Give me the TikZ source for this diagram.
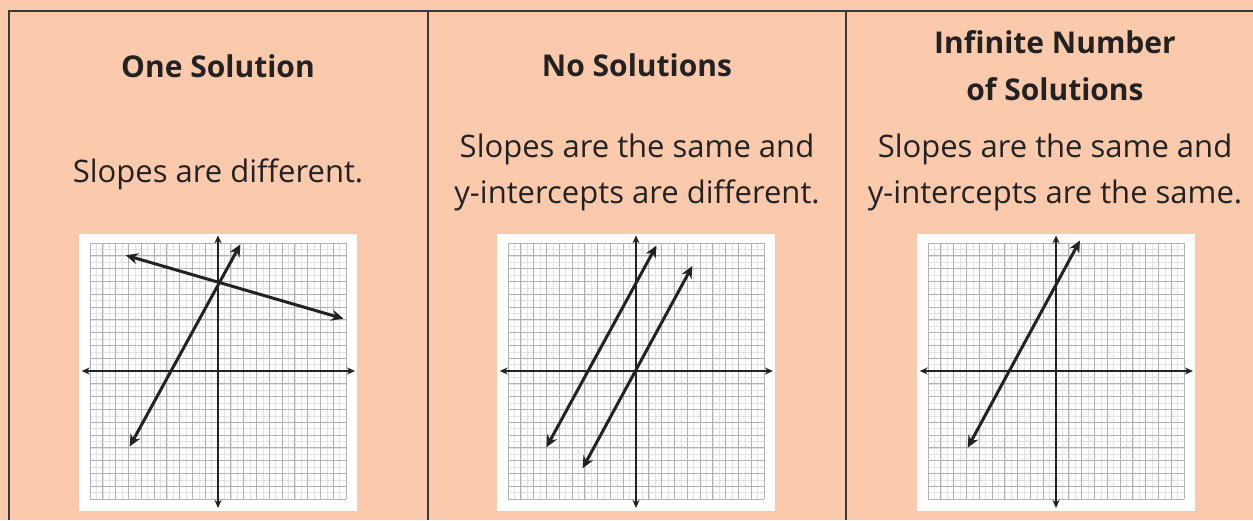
\documentclass[tikz,border=0pt]{standalone}
\usepackage{fontspec}
\setmainfont{Open Sans}
\usetikzlibrary{arrows.meta}
\definecolor{solPeach}{HTML}{FBC9AC}
\definecolor{solInk}{HTML}{222222}
\definecolor{solRule}{HTML}{3A3A3A}
\tikzset{
  every picture/.style={text=solInk},
  sol head/.style={font=\bfseries\fontsize{30}{47}\selectfont, align=center, anchor=base, inner sep=0pt},
  sol text/.style={font=\fontsize{31}{46}\selectfont, align=center, anchor=base, inner sep=0pt},
  sol rule/.style={draw=solRule, line width=1.5pt},
  sol minor/.style={draw=black!11, line width=0.5pt},
  sol major/.style={draw=black!30, line width=0.8pt},
  sol axis/.style={{Stealth[length=8pt,width=7pt]}-{Stealth[length=8pt,width=7pt]},
    draw=solInk, line width=2pt},
  sol line/.style={{Stealth[length=12pt,width=11pt]}-{Stealth[length=12pt,width=11pt]},
    draw=solInk, line width=3pt}
}

\begin{document}
\begin{tikzpicture}[x=1pt,y=-1pt]
  \useasboundingbox (0,0) rectangle (1253,520);
  \fill[solPeach] (0,0) rectangle (1253,520);

  % table rules
  \draw[sol rule] (9,520) -- (9,11) -- (1253,11);
  \draw[sol rule] (428,11) -- (428,520);
  \draw[sol rule] (846,11) -- (846,520);

  % headings and rules of thumb (base = last line)
  \node[sol head] (oneHead) at (218,77) {One Solution};
  \node[sol text] (oneText) at (218,182) {Slopes are different.};
  \node[sol head] (noHead) at (637,76) {No Solutions};
  \node[sol text] (noText) at (637,203) {Slopes are the same and\\y-intercepts are different.};
  \node[sol head] (infHead) at (1055,100) {Infinite Number\\of Solutions};
  \node[sol text] (infText) at (1055,203) {Slopes are the same and\\y-intercepts are the same.};

  % graph paper
  \foreach \ox in {218,636,1056}{
    \begin{scope}[shift={(\ox,371)},x=12.8pt,y=12.8pt]
      \fill[white] (-10.85,-10.92) rectangle (10.85,10.7);
      \draw[sol minor] (-10,-10) grid[step=0.5] (10,10);
      \draw[sol major] (-10,-10) grid[step=1] (10,10);
      \draw[sol axis] (-10.65,0) -- (10.7,0);
      \draw[sol axis] (0,-10.7) -- (0,10.6);
    \end{scope}
  }

  % one solution
  \begin{scope}[shift={(218,371)},x=12.8pt,y=12.8pt]
    \draw[sol line] (-6.9,-5.9) -- (1.75,9.9);
    \draw[sol line] (-7.2,9.04) -- (9.8,4.09);
  \end{scope}

  % no solutions
  \begin{scope}[shift={(636,371)},x=12.8pt,y=12.8pt]
    \draw[sol line] (-7.0,-5.96) -- (1.6,9.8);
    \draw[sol line] (-4.17,-7.6) -- (4.4,8.2);
  \end{scope}

  % infinite number of solutions
  \begin{scope}[shift={(1056,371)},x=12.8pt,y=12.8pt]
    \draw[sol line] (-6.9,-5.99) -- (1.875,10.2);
  \end{scope}
\end{tikzpicture}
\end{document}
